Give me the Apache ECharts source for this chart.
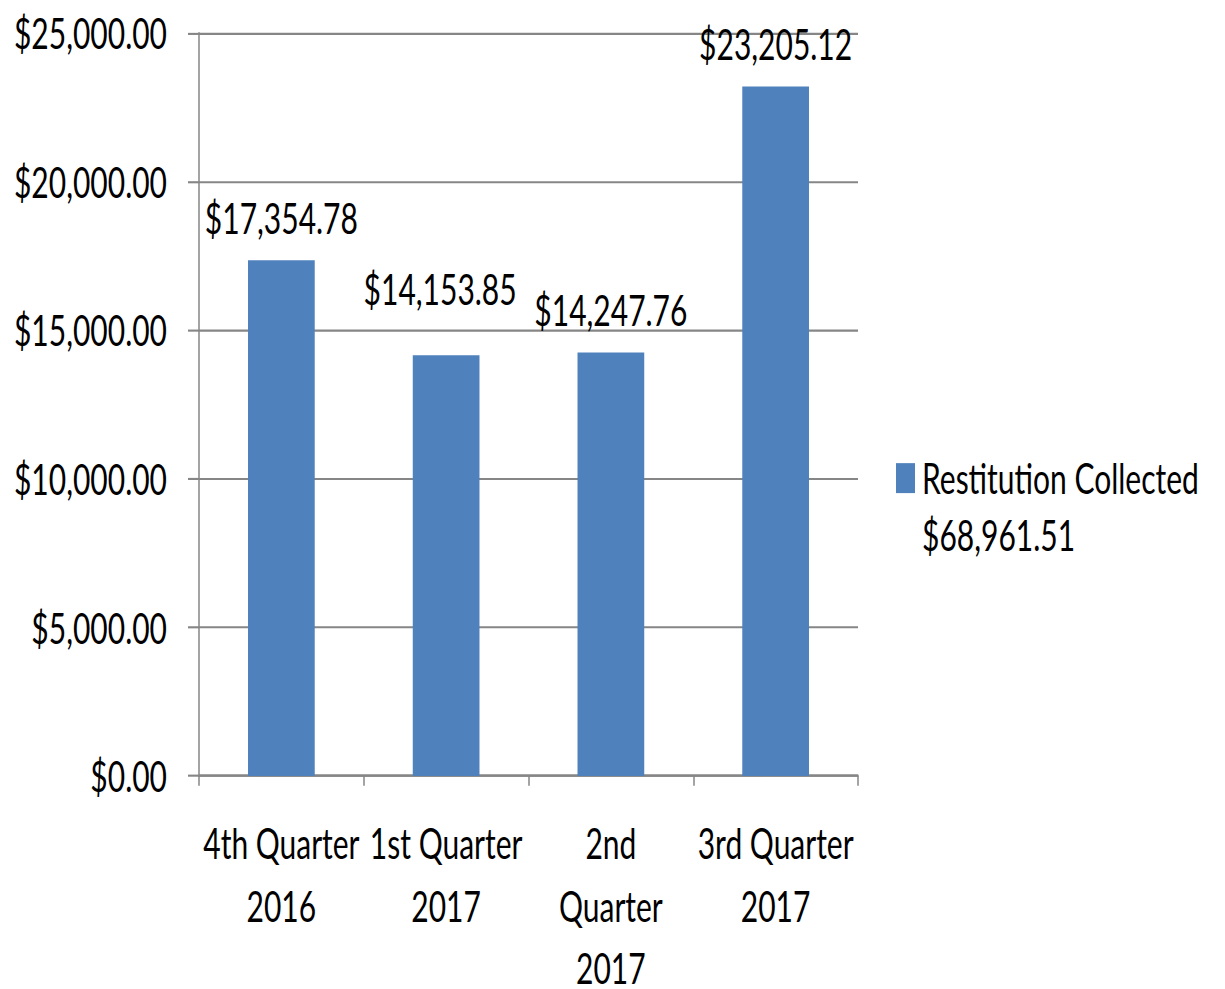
<!DOCTYPE html>
<html>
<head>
<meta charset="utf-8">
<title>Restitution Collected</title>
<script src="https://cdn.jsdelivr.net/npm/echarts@6/dist/echarts.min.js"></script>
<style>
  html, body { margin: 0; padding: 0; background: #ffffff; }
  #page { width: 1225px; height: 989px; position: relative; overflow: hidden; }
  /* the chart is laid out at 1225x700 and stretched tall to fill the 989px page,
     giving the tall, narrow lettering of the original slide */
  #chart { position: absolute; left: 0; top: 0; width: 1225px; height: 700px;
           transform: scaleY(1.412857); transform-origin: 0 0; }
</style>
</head>
<body>
<div id="page"><div id="chart"></div></div>
<script>
// Quarterly restitution amounts
const quarters = ['4th Quarter\n2016', '1st Quarter\n2017', '2nd\nQuarter\n2017', '3rd Quarter\n2017'];
const restitution = [17354.78, 14153.85, 14247.76, 23205.12];
const seriesName = 'Restitution Collected';
const yTicks = [0, 5000, 10000, 15000, 20000, 25000];

const FONT = 'Lato, "Open Sans", sans-serif';
const FS = 30;
const BLUE = '#4F81BD';
const GRID = '#868686';

function money(v) {
  return '$' + v.toLocaleString('en-US', { minimumFractionDigits: 2, maximumFractionDigits: 2 });
}

const total = restitution.reduce((a, b) => a + b, 0);

// label nudges so neighbouring value labels do not collide
const labelNudge = [[0, 0], [-6, -17], [0, 0], [0, 0]];

const chart = echarts.init(document.getElementById('chart'), null, { renderer: 'svg' });

chart.setOption({
  backgroundColor: '#ffffff',
  animation: false,
  textStyle: { fontFamily: FONT },
  grid: { left: 199, right: 367, top: 23.4, bottom: 150.8, containLabel: false, outerBoundsMode: 'none' },
  title: {
    text: money(total),
    left: 922,
    top: 363,
    padding: 0,
    textStyle: { fontFamily: FONT, fontSize: FS, fontWeight: 'normal', color: '#000', lineHeight: 31 }
  },
  legend: {
    data: [seriesName],
    left: 896,
    top: 323.4,
    padding: 0,
    itemWidth: 19,
    itemHeight: 21.2,
    icon: 'rect',
    textStyle: { fontFamily: FONT, fontSize: FS, color: '#000', padding: [0, 0, 0, 2] }
  },
  xAxis: {
    type: 'category',
    data: quarters,
    boundaryGap: true,
    axisLine: { show: true, lineStyle: { color: GRID, width: 1.5 } },
    axisTick: { show: true, alignWithLabel: false, length: 7, lineStyle: { color: GRID, width: 1.5 } },
    axisLabel: {
      color: '#000', fontFamily: FONT, fontSize: FS, lineHeight: 44.2, margin: 25.6, interval: 0
    }
  },
  yAxis: {
    type: 'value',
    min: yTicks[0],
    max: yTicks[yTicks.length - 1],
    interval: yTicks[1] - yTicks[0],
    axisLine: { show: true, lineStyle: { color: GRID, width: 1.5 } },
    axisTick: { show: true, length: 11, lineStyle: { color: GRID, width: 1.5 } },
    splitLine: { show: true, lineStyle: { color: GRID, width: 1.5 } },
    axisLabel: { color: '#000', fontFamily: FONT, fontSize: FS, margin: 32, formatter: v => money(v) }
  },
  series: [{
    name: seriesName,
    type: 'bar',
    barWidth: '40.5%',
    itemStyle: { color: BLUE },
    label: {
      show: true,
      position: 'top',
      distance: 14,
      color: '#000',
      fontFamily: FONT,
      fontSize: FS,
      lineHeight: 32,
      formatter: p => money(p.value)
    },
    data: restitution.map((v, i) => ({ value: v, label: { offset: labelNudge[i] } }))
  }]
});
</script>
</body>
</html>
